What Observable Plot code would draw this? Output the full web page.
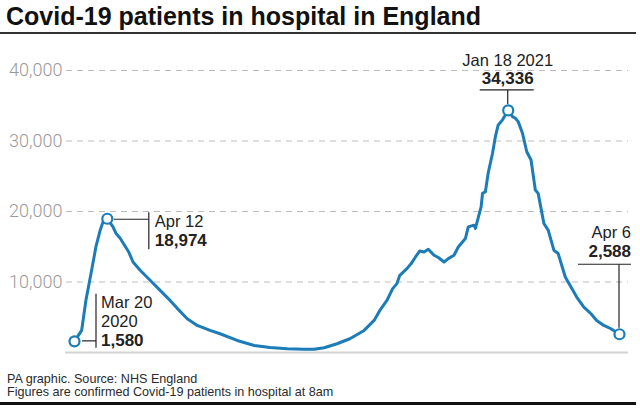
<!DOCTYPE html>
<html>
<head>
<meta charset="utf-8">
<script src="https://cdn.jsdelivr.net/npm/d3@7"></script>
<script src="https://cdn.jsdelivr.net/npm/@observablehq/plot@0.6"></script>
<style>
  html, body { margin: 0; padding: 0; background: #fff; }
  body { width: 640px; height: 409px; position: relative; overflow: hidden; font-family: "Liberation Sans", Arial, sans-serif; }
  #title { position: absolute; left: 6px; top: 4px; font-size: 25px; line-height: 25px; font-weight: 700; color: #111; white-space: nowrap; }
  #rule-top { position: absolute; left: 0; top: 32px; width: 636px; height: 2px; background: #333; }
  #chart { position: absolute; left: 0; top: 35px; }
  .foot { position: absolute; left: 7px; font-size: 12.6px; line-height: 13px; color: #2a2a2a; white-space: nowrap; }
  #foot1 { top: 373px; }
  #foot2 { top: 386px; }
  #rule-bottom { position: absolute; left: 0; top: 402px; width: 636px; height: 3px; background: #111; }
</style>
</head>
<body>
<div id="title">Covid-19 patients in hospital in England</div>
<div id="rule-top"></div>
<div id="chart"></div>
<div class="foot" id="foot1">PA graphic. Source: NHS England</div>
<div class="foot" id="foot2">Figures are confirmed Covid-19 patients in hospital at 8am</div>
<div id="rule-bottom"></div>
<script>
// Data
const dates = [
  "2020-03-20","2020-03-25","2020-03-28","2020-04-01","2020-04-04","2020-04-07","2020-04-09","2020-04-12",
  "2020-04-16","2020-04-18","2020-04-21","2020-04-27","2020-04-30","2020-05-05","2020-05-12","2020-05-19",
  "2020-05-26","2020-05-31","2020-06-07","2020-06-14","2020-06-23","2020-06-30","2020-07-12","2020-07-24",
  "2020-08-04","2020-08-16","2020-08-28","2020-09-04","2020-09-11","2020-09-20","2020-09-29","2020-10-09",
  "2020-10-16","2020-10-20","2020-10-25","2020-10-29","2020-11-01","2020-11-03","2020-11-08","2020-11-11",
  "2020-11-14","2020-11-17","2020-11-20","2020-11-23","2020-11-27","2020-11-30","2020-12-04","2020-12-07",
  "2020-12-11","2020-12-14","2020-12-19","2020-12-21","2020-12-25","2020-12-26","2020-12-30","2020-12-31",
  "2021-01-02","2021-01-04","2021-01-07","2021-01-09","2021-01-11","2021-01-14","2021-01-16","2021-01-18",
  "2021-01-21","2021-01-23","2021-01-25","2021-01-28","2021-01-31","2021-02-03","2021-02-06","2021-02-08",
  "2021-02-12","2021-02-15","2021-02-19","2021-02-22","2021-02-27","2021-03-03","2021-03-07","2021-03-12",
  "2021-03-17","2021-03-21","2021-03-26","2021-03-31","2021-04-06"
];
const patients = [
  1580, 3130, 7390, 11660, 14970, 17350, 18530, 18974,
  17820, 16920, 16210, 14260, 12840, 11660, 10240, 8820,
  7390, 6260, 4790, 3840, 3130, 2660, 1710, 1000,
  700, 530, 450, 450, 670, 1240, 1950, 3130,
  4550, 5970, 7390, 9060, 9770, 10950, 11900, 12610,
  13550, 14400, 14260, 14650, 13790, 13470, 12840, 13320,
  13790, 14970, 16170, 17820, 18060, 17590, 20660, 22570,
  22800, 25500, 28260, 30620, 32280, 33000, 33700, 34336,
  33460, 33230, 32750, 31100, 28480, 27300, 23040, 22570,
  18300, 17350, 14510, 14040, 10710, 9290, 7860, 6440,
  5500, 4550, 3840, 3370, 2588
];
const yTicks = [10000, 20000, 30000, 40000];

const calloutDates = ["2020-03-20", "2020-04-12", "2021-01-18", "2021-04-06"];
const calloutValues = [1580, 18974, 34336, 2588];
const calloutDateLabels = [["Mar 20", "2020"], ["Apr 12"], ["Jan 18 2021"], ["Apr 6"]];
const calloutValueLabels = ["1,580", "18,974", "34,336", "2,588"];

const parse = d3.utcParse("%Y-%m-%d");
const series = dates.map((d, i) => ({date: parse(d), value: patients[i]}));
const callouts = calloutDates.map((d, i) => ({
  date: parse(d), value: calloutValues[i],
  dateLabel: calloutDateLabels[i], valueLabel: calloutValueLabels[i]
}));

const blue = "#1b7cb8";
const ink = "#222";
const font = "'Liberation Sans', Arial, sans-serif";

// pixel layout of each callout (leader lines and text), relative to its point
const layouts = [
  {h: [8, 22, 0], v: [22, -47, 7], tx: 27, ty: [-33, -14, 5], anchor: "start"},
  {h: [7, 42, 1], v: [42, -6, 31], tx: 48, ty: [9, 28], anchor: "start"},
  {h: [-28, 26, -20], v: [0, -20, -6], tx: 0, ty: [-44, -25.5], anchor: "middle"},
  {h: [-41, 12, -69.5], v: [0, -69.5, -6], tx: 12, ty: [-96, -77], anchor: "end"}
];

function calloutMark(index, scales) {
  const g = d3.create("svg:g");
  callouts.forEach((c, i) => {
    const px = scales.x(c.date), py = scales.y(c.value);
    const L = layouts[i];
    g.append("line").attr("x1", px + L.h[0]).attr("x2", px + L.h[1])
      .attr("y1", py + L.h[2]).attr("y2", py + L.h[2])
      .attr("stroke", ink).attr("stroke-width", 1.2);
    g.append("line").attr("x1", px + L.v[0]).attr("x2", px + L.v[0])
      .attr("y1", py + L.v[1]).attr("y2", py + L.v[2])
      .attr("stroke", ink).attr("stroke-width", 1.2);
    const lines = [...c.dateLabel, c.valueLabel];
    lines.forEach((t, j) => {
      const bold = j === lines.length - 1;
      g.append("text").attr("x", px + L.tx).attr("y", py + L.ty[j])
        .attr("text-anchor", L.anchor)
        .attr("font-family", font)
        .attr("font-size", bold ? 17 : 16.5)
        .attr("font-weight", bold ? 700 : 400)
        .attr("fill", ink)
        .text(t);
    });
  });
  return g.node();
}

const chart = Plot.plot({
  width: 640,
  height: 335,
  marginTop: 35,
  marginBottom: 18,
  marginLeft: 74,
  marginRight: 21,
  style: {fontFamily: "Roboto, sans-serif", background: "transparent", overflow: "visible"},
  x: {type: "utc", domain: [parse(dates[0]), parse(dates[dates.length - 1])], axis: null},
  y: {domain: [0, 40000]},
  marks: [
    Plot.ruleY(yTicks, {stroke: "#bdbdbd", strokeDasharray: "6,5", strokeWidth: 1, insetLeft: -8, insetRight: -9}),
    Plot.ruleY([0], {stroke: "#d4d4d4", strokeWidth: 2, insetLeft: -9, insetRight: -9}),
    Plot.axisY(yTicks, {tickSize: 0, tickPadding: 12, tickFormat: d3.format(","), fontSize: 18, fontWeight: 300, color: "#9a9a9a", label: null}),
    Plot.line(series, {x: "date", y: "value", stroke: blue, strokeWidth: 3, strokeLinejoin: "round"}),
    calloutMark,
    Plot.dot(callouts, {x: "date", y: "value", r: 5, fill: "white", stroke: blue, strokeWidth: 2.2})
  ]
});
document.getElementById("chart").appendChild(chart);
</script>
</body>
</html>
